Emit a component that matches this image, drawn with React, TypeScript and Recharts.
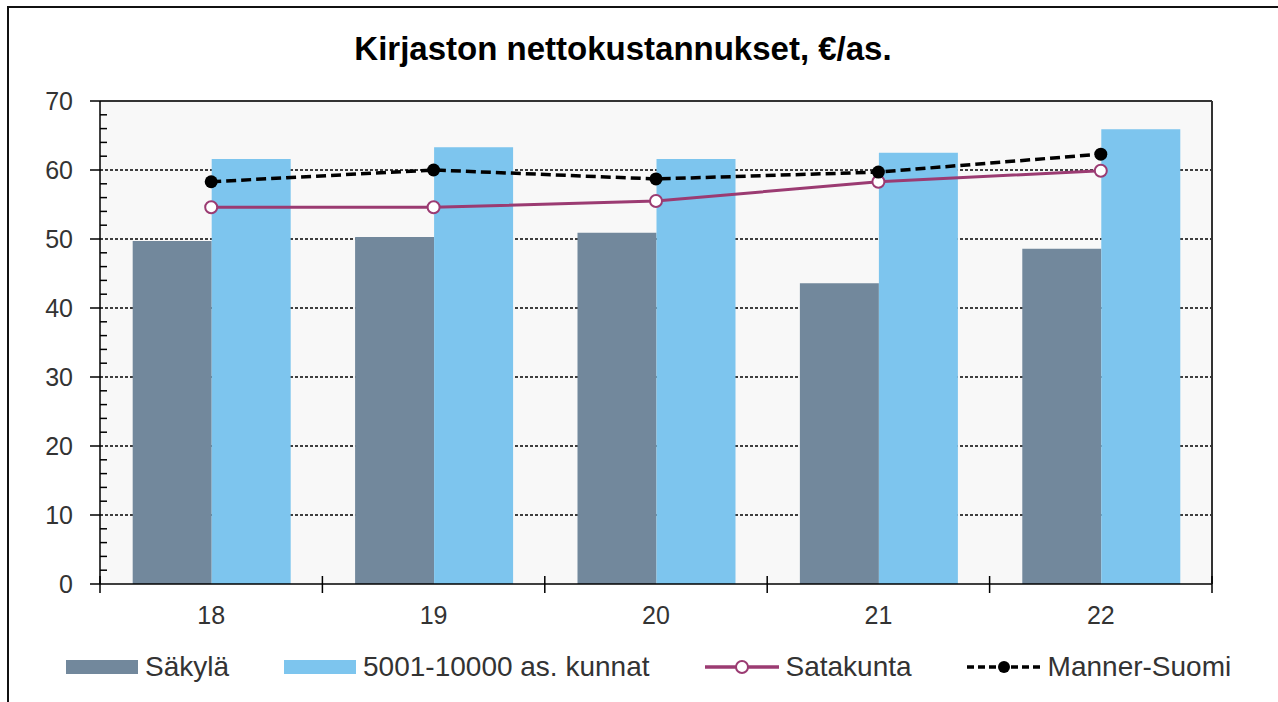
import React from "react";
import { ComposedChart, Bar, Line, XAxis, YAxis, CartesianGrid } from "recharts";

const years = ["18", "19", "20", "21", "22"];
const sakyla = [49.7, 50.3, 50.9, 43.6, 48.6];
const kunnat = [61.6, 63.3, 61.6, 62.5, 65.9];
const satakunta = [54.6, 54.6, 55.5, 58.3, 59.9];
const mannerSuomi = [58.3, 60.0, 58.7, 59.7, 62.3];

const yTicks = [0, 2, 4, 6, 8, 10, 12, 14, 16, 18, 20, 22, 24, 26, 28, 30, 32, 34, 36, 38, 40, 42, 44, 46, 48, 50, 52, 54, 56, 58, 60, 62, 64, 66, 68, 70];
const gridValues = [10, 20, 30, 40, 50, 60];

const data = years.map((year, i) => ({
  year,
  sakyla: sakyla[i],
  kunnat: kunnat[i],
  satakunta: satakunta[i],
  manner: mannerSuomi[i],
}));

const W = 1278;
const H = 702;
const PLOT_LEFT = 100;
const PLOT_RIGHT = 1212;
const PLOT_TOP = 101;
const PLOT_BOTTOM = 584;
const FONT = "'Liberation Sans', Arial, sans-serif";

const C_SAKYLA = "#72889c";
const C_KUNNAT = "#7dc5ee";
const C_SATAKUNTA = "#9b3b72";
const C_MANNER = "#000000";

const YTick = (props: any) => {
  const { x, y, payload } = props;
  const v = payload.value;
  if (v % 10 === 0) {
    return (
      <g>
        <line x1={x - 10} x2={x} y1={y} y2={y} stroke="#000" strokeWidth={1.5} />
        <text x={x - 27} y={y} textAnchor="end" dominantBaseline="central" fontSize={25} fill="#333" fontFamily={FONT}>
          {v}
        </text>
      </g>
    );
  }
  return <line x1={x} x2={x + 7} y1={y} y2={y} stroke="#000" strokeWidth={1.5} />;
};

const band = (PLOT_RIGHT - PLOT_LEFT) / years.length;

const XTick = (props: any) => {
  const { x, y, payload, index } = props;
  return (
    <g>
      <line x1={x - band / 2} x2={x - band / 2} y1={y - 8} y2={y + 9} stroke="#000" strokeWidth={1.5} />
      {index === years.length - 1 && (
        <line x1={x + band / 2} x2={x + band / 2} y1={y - 8} y2={y + 9} stroke="#000" strokeWidth={1.5} />
      )}
      <text x={x} y={y + 40} textAnchor="middle" fontSize={25} fill="#333" fontFamily={FONT}>
        {payload.value}
      </text>
    </g>
  );
};

const legendItems = [
  { name: "Säkylä", kind: "bar", color: C_SAKYLA },
  { name: "5001-10000 as. kunnat", kind: "bar", color: C_KUNNAT },
  { name: "Satakunta", kind: "open", color: C_SATAKUNTA },
  { name: "Manner-Suomi", kind: "dash", color: C_MANNER },
];

const Swatch = ({ kind, color }: { kind: string; color: string }) => {
  if (kind === "bar") {
    return (
      <svg width={72} height={14}>
        <rect x={0} y={0} width={72} height={14} fill={color} />
      </svg>
    );
  }
  if (kind === "open") {
    return (
      <svg width={74} height={16}>
        <line x1={0} x2={74} y1={8} y2={8} stroke={color} strokeWidth={3.5} />
        <circle cx={37} cy={8} r={6} fill="#fff" stroke={color} strokeWidth={2} />
      </svg>
    );
  }
  return (
    <svg width={74} height={16}>
      <line x1={0} x2={74} y1={8} y2={8} stroke={color} strokeWidth={3.5} strokeDasharray="7 4" />
      <circle cx={37} cy={8} r={6} fill={color} />
    </svg>
  );
};

const ManDot = (props: any) => {
  const { cx, cy } = props;
  return <circle cx={cx} cy={cy} r={6.5} fill={C_MANNER} />;
};

export default function App() {
  return (
    <div style={{ position: "fixed", left: 0, top: 0, width: W, height: H, overflow: "hidden", background: "#fff", fontFamily: FONT }}>
      <div style={{ position: "absolute", left: 7, top: 6, width: W, height: H, borderLeft: "2px solid #111", borderTop: "2px solid #111" }} />
      <div style={{ position: "absolute", left: 0, width: 1246, top: 30, textAlign: "center", fontSize: 33, fontWeight: "bold", color: "#000" }}>
        Kirjaston nettokustannukset, €/as.
      </div>
      <div style={{ position: "absolute", left: 0, top: 0 }}>
        <ComposedChart
          width={W}
          height={H}
          data={data}
          margin={{ top: PLOT_TOP - 1, right: W - PLOT_RIGHT - 1, bottom: 0, left: 0 }}
          barCategoryGap="14.7%"
          barGap={0}
        >
          <CartesianGrid
            vertical={false}
            fill="#f8f8f8"
            stroke="#000"
            strokeWidth={1.3}
            strokeDasharray="3 2"
            horizontalCoordinatesGenerator={(args: any) => {
              const { yAxis, offset } = args;
              return gridValues.map((v) =>
                yAxis && typeof yAxis.scale === "function"
                  ? yAxis.scale(v)
                  : offset.top + offset.height * (1 - v / 70)
              );
            }}
          />
          <XAxis
            dataKey="year"
            height={H - PLOT_BOTTOM}
            tickSize={0}
            tickMargin={0}
            tickLine={false}
            tick={<XTick />}
            axisLine={{ stroke: "#000", strokeWidth: 1.5 }}
            interval={0}
          />
          <XAxis
            xAxisId="top"
            orientation="top"
            dataKey="year"
            height={1}
            tick={false}
            tickLine={false}
            axisLine={{ stroke: "#333", strokeWidth: 2 }}
          />
          <YAxis
            width={PLOT_LEFT}
            domain={[0, 70]}
            ticks={yTicks}
            interval={0}
            tickSize={0}
            tickMargin={0}
            tickLine={false}
            tick={<YTick />}
            axisLine={{ stroke: "#000", strokeWidth: 1.5 }}
          />
          <YAxis
            yAxisId="right"
            orientation="right"
            width={1}
            domain={[0, 70]}
            tick={false}
            tickLine={false}
            axisLine={{ stroke: "#333", strokeWidth: 2 }}
          />
          <Bar dataKey="sakyla" name="Säkylä" fill={C_SAKYLA} isAnimationActive={false} />
          <Bar dataKey="kunnat" name="5001-10000 as. kunnat" fill={C_KUNNAT} isAnimationActive={false} />
          <Line
            dataKey="satakunta"
            name="Satakunta"
            type="linear"
            stroke={C_SATAKUNTA}
            strokeWidth={3}
            dot={{ r: 6, fill: "#fff", stroke: C_SATAKUNTA, strokeWidth: 2 }}
            isAnimationActive={false}
          />
          <Line
            dataKey="manner"
            name="Manner-Suomi"
            type="linear"
            stroke={C_MANNER}
            strokeWidth={3.5}
            strokeDasharray="10 5"
            dot={<ManDot />}
            isAnimationActive={false}
          />
        </ComposedChart>
      </div>
      <div style={{ position: "absolute", left: 66, top: 651, display: "flex", alignItems: "center", gap: 55, fontSize: 28, color: "#333" }}>
        {legendItems.map((it) => (
          <div key={it.name} style={{ display: "flex", alignItems: "center", gap: 7 }}>
            <Swatch kind={it.kind} color={it.color} />
            <span>{it.name}</span>
          </div>
        ))}
      </div>
    </div>
  );
}
